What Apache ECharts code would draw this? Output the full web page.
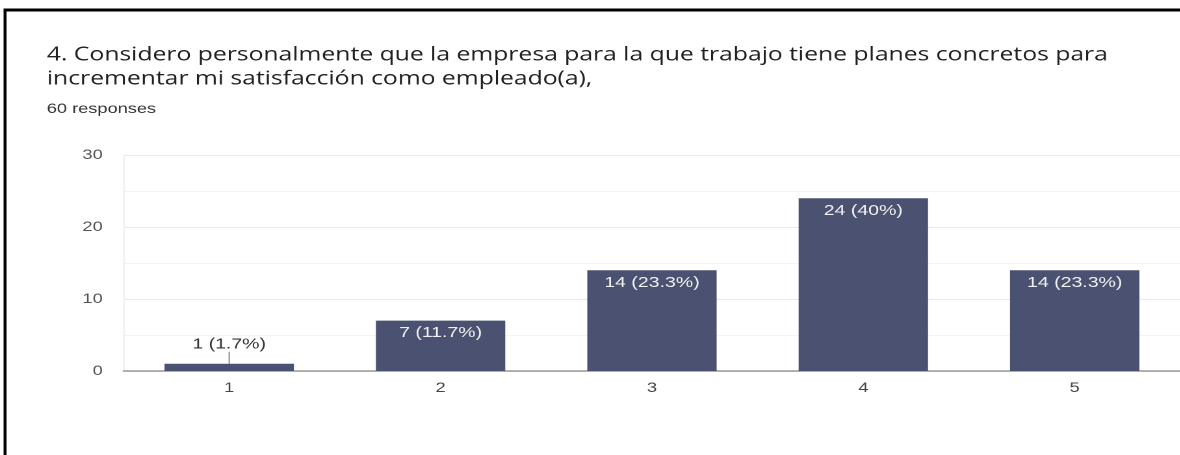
<!DOCTYPE html>
<html>
<head>
<meta charset="utf-8">
<script src="https://cdn.jsdelivr.net/npm/echarts@6/dist/echarts.min.js"></script>
<style>
  html, body { margin: 0; padding: 0; background: #fff; overflow: hidden; }
  /* the chart is laid out narrower and widened horizontally, giving the wide lettering */
  #chart { width: 908px; height: 455px; transform: scaleX(1.3); transform-origin: 0 0; }
</style>
</head>
<body>
<div id="chart"></div>
<script>
// Survey answers on a 1–5 scale
const categories = ['1', '2', '3', '4', '5'];
const counts = [1, 7, 14, 24, 14];
const percents = ['1.7%', '11.7%', '23.3%', '40%', '23.3%'];
const yTicks = [0, 10, 20, 30];

const titleText = '4. Considero personalmente que la empresa para la que trabajo tiene planes concretos para\nincrementar mi satisfacción como empleado(a),';
const subText = '60 responses';

const barColor = '#4b5170';

const seriesData = counts.map((v, i) => {
  const item = { value: v };
  if (v < 3) {
    // small bars get their label above with a short guide line
    item.label = { position: 'top', distance: 0, color: '#333' };
    item.labelLine = { show: true, lineStyle: { color: '#888', width: 1 } };
  }
  return item;
});

const chart = echarts.init(document.getElementById('chart'), null, { renderer: 'canvas', devicePixelRatio: 2 });
chart.setOption({
  animation: false,
  backgroundColor: '#fff',
  title: {
    text: titleText,
    subtext: subText,
    left: 31,
    top: 38,
    itemGap: 11,
    textStyle: { fontFamily: 'Open Sans', fontSize: 19, fontWeight: 'normal', color: '#202124', lineHeight: 24 },
    subtextStyle: { fontFamily: 'Liberation Sans', fontSize: 14, color: '#333' }
  },
  graphic: [
    { type: 'line', shape: { x1: 3.9, y1: 8.5, x2: 3.9, y2: 455 }, style: { stroke: '#000', lineWidth: 2.3 }, z: 100 },
    { type: 'line', shape: { x1: 3, y1: 10, x2: 908, y2: 10 }, style: { stroke: '#000', lineWidth: 3 }, z: 100 }
  ],
  grid: { left: 95, right: -4, top: 155, bottom: 84, containLabel: false },
  xAxis: {
    type: 'category',
    data: categories,
    axisLine: { show: true, lineStyle: { color: '#999', width: 1.5 } },
    axisTick: { show: false },
    axisLabel: { color: '#444', fontFamily: 'Liberation Sans', fontSize: 14, margin: 10 }
  },
  yAxis: {
    type: 'value',
    min: 0,
    max: 30,
    interval: 10,
    axisLine: { show: true, lineStyle: { color: '#eee' } },
    axisTick: { show: false },
    axisLabel: {
      color: '#555', fontFamily: 'Liberation Sans', fontSize: 14, margin: 16,
      formatter: v => (yTicks.includes(v) ? String(v) : '')
    },
    splitLine: { show: true, lineStyle: { color: '#e9e9e9', width: 1 } },
    minorTick: { show: false, splitNumber: 2 },
    minorSplitLine: { show: true, lineStyle: { color: '#f3f3f3', width: 1 } }
  },
  series: [{
    type: 'bar',
    data: seriesData,
    barWidth: '61.2%',
    itemStyle: { color: barColor },
    label: {
      show: true,
      position: 'insideTop',
      distance: 5,
      color: '#f2f2f2',
      fontFamily: 'Liberation Sans',
      fontSize: 15,
      formatter: p => p.value + ' (' + percents[p.dataIndex] + ')'
    },
    labelLayout: p => (counts[p.dataIndex] < 3 ? { dy: -12 } : {})
  }]
});
</script>
</body>
</html>
